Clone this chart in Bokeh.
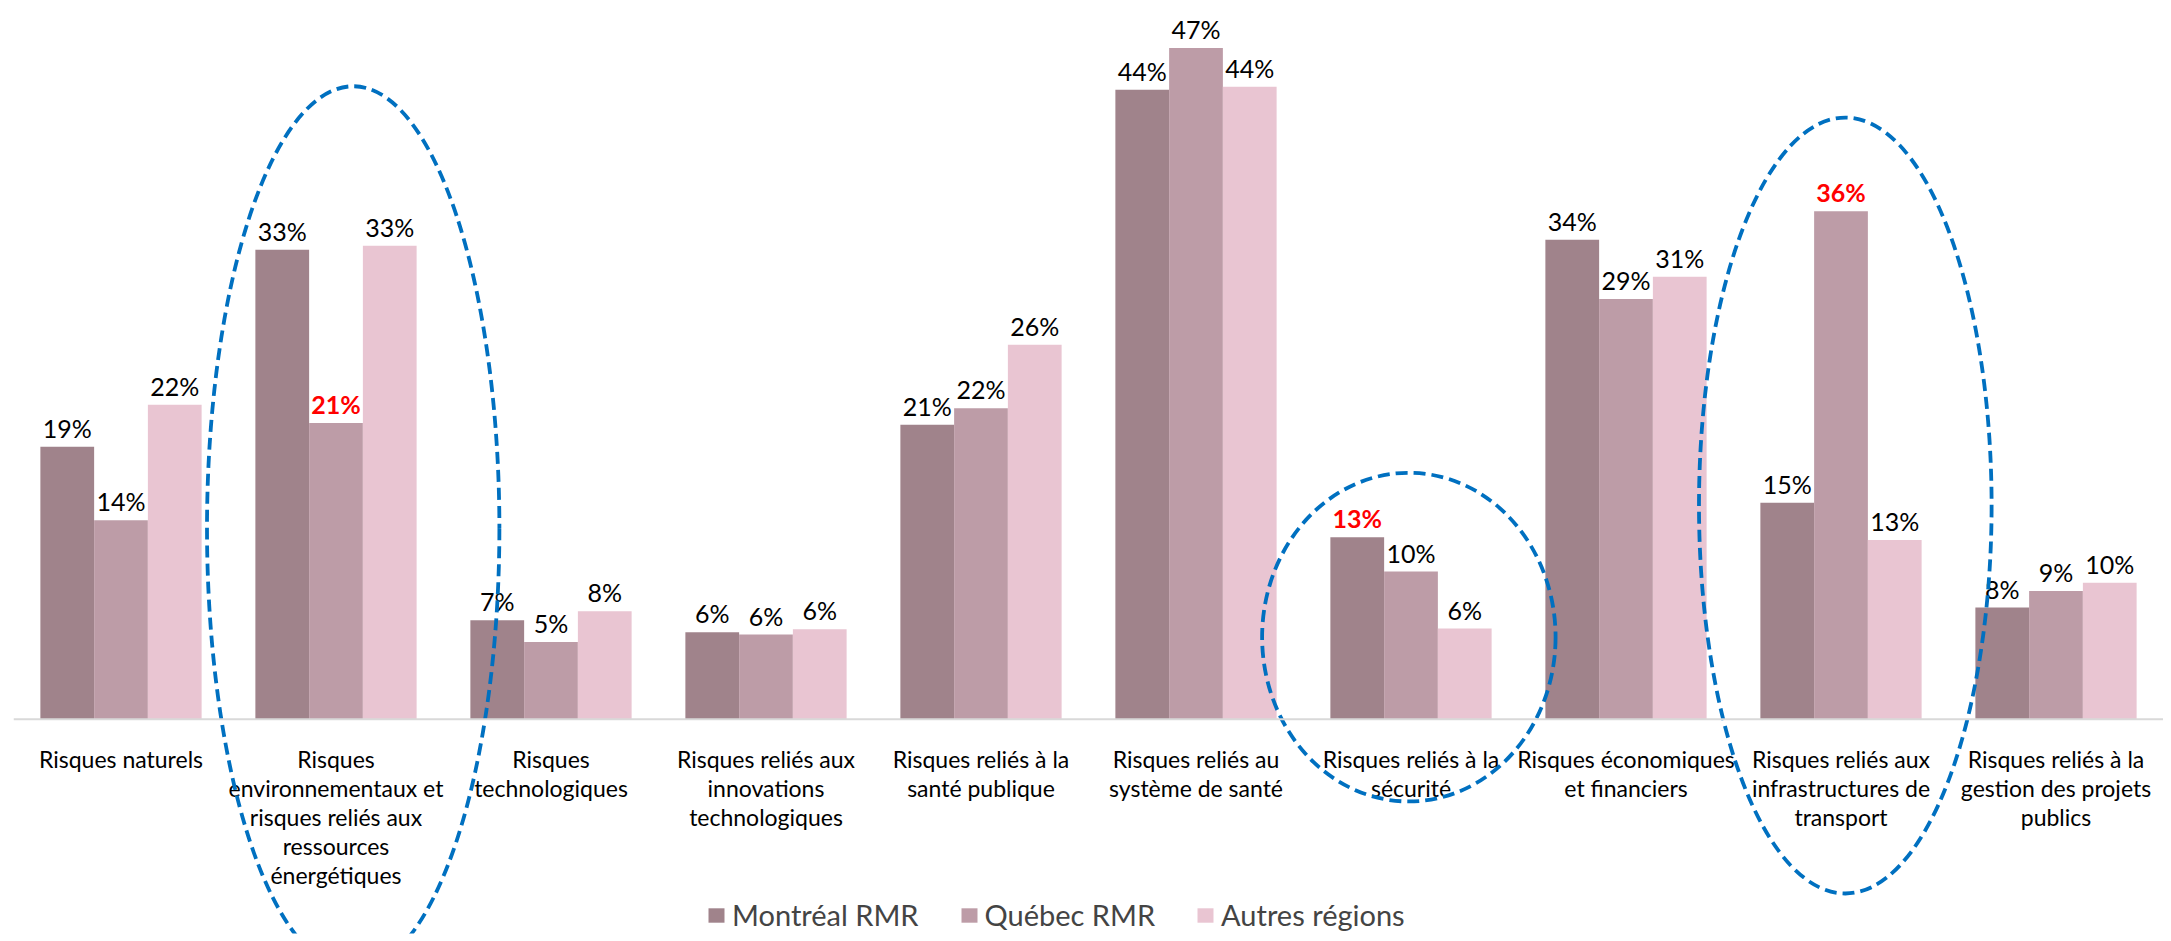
from bokeh.plotting import figure
from bokeh.models import ColumnDataSource, FactorRange, Range1d, Span
from bokeh.transform import dodge
from bokeh.core.properties import value
from bokeh.embed import file_html
from bokeh.resources import INLINE

# ---------------- data ----------------
categories = [
    "Risques naturels",
    "Risques environnementaux et risques reliés aux ressources énergétiques",
    "Risques technologiques",
    "Risques reliés aux innovations technologiques",
    "Risques reliés à la santé publique",
    "Risques reliés au système de santé",
    "Risques reliés à la sécurité",
    "Risques économiques et financiers",
    "Risques reliés aux infrastructures de transport",
    "Risques reliés à la gestion des projets publics",
]
category_labels = [
    "Risques naturels",
    "Risques\nenvironnementaux et\nrisques reliés aux\nressources\nénergétiques",
    "Risques\ntechnologiques",
    "Risques reliés aux\ninnovations\ntechnologiques",
    "Risques reliés à la\nsanté publique",
    "Risques reliés au\nsystème de santé",
    "Risques reliés à la\nsécurité",
    "Risques économiques\net financiers",
    "Risques reliés aux\ninfrastructures de\ntransport",
    "Risques reliés à la\ngestion des projets\npublics",
]
series_names = ["Montréal RMR", "Québec RMR", "Autres régions"]
montreal = [19.06, 32.84, 6.92, 6.08, 20.6, 44.05, 12.73, 33.55, 15.14, 7.81]
quebec = [13.92, 20.72, 5.4, 5.92, 21.75, 46.97, 10.33, 29.4, 35.55, 8.96]
autres = [22.0, 33.12, 7.55, 6.29, 26.2, 44.25, 6.34, 30.96, 12.53, 9.55]
series_values = [montreal, quebec, autres]
# highlighted (red, bold) labels: (category index, series index)
highlights = [(1, 1), (6, 0), (8, 1)]

# ---------------- style ----------------
bar_colors = ["#A0838B", "#BD9CA7", "#E9C5D2"]
offsets = [-0.25, 0.0, 0.25]
FONT = "Lato"

p = figure(
    width=2163, height=941,
    x_range=FactorRange(*categories, range_padding=0),
    y_range=Range1d(-15.0, 49.73),
    x_axis_location=None, y_axis_location=None,
    toolbar_location=None, output_backend="svg",
    min_border=0, min_border_left=13, min_border_top=8, min_border_bottom=8,
)
p.grid.visible = False
p.outline_line_color = None
p.background_fill_color = "white"
p.border_fill_color = "white"

for si, (name, vals) in enumerate(zip(series_names, series_values)):
    labels = [f"{int(v + 0.5)}%" for v in vals]
    colors = ["#FF0000" if (ci, si) in highlights else "#000000" for ci in range(len(categories))]
    styles = ["bold" if (ci, si) in highlights else "normal" for ci in range(len(categories))]
    src = ColumnDataSource(dict(cat=categories, val=vals, lab=labels, col=colors, sty=styles))
    p.vbar(x=dodge("cat", offsets[si], range=p.x_range), top="val", width=0.25, bottom=0,
           source=src, fill_color=bar_colors[si], line_color=None, legend_label=name)
    p.text(x=dodge("cat", offsets[si], range=p.x_range), y="val", text="lab", source=src,
           text_color="col", text_font_style="sty", text_font=value(FONT),
           text_font_size="25px", text_align="center", text_baseline="alphabetic",
           y_offset=-19)

# axis line
p.add_layout(Span(location=0, dimension="width", line_color="#D9D9D9", line_width=2))

# category labels
csrc = ColumnDataSource(dict(cat=categories, lab=category_labels))
p.text(x="cat", y=0, text="lab", source=csrc, text_font=value(FONT), text_font_size="23px",
       text_color="#000000", text_align="center", text_baseline="top", y_offset=26,
       text_line_height=1.03)

# dashed ellipses around circled categories
ell_x = [1.5 + 0.08, 6.5 - 0.01, 8.5 + 0.02]
ell_y = [13.35, 5.74, 14.95]
ell_w = [1.36, 1.365, 1.361]
ell_h = [61.9, 23.0, 54.3]
p.ellipse(x=ell_x, y=ell_y, width=ell_w, height=ell_h, fill_color=None,
          line_color="#0070C0", line_width=3.8, line_dash="12 6")

leg = p.legend[0]
leg.orientation = "horizontal"
leg.location = (693, 1)
leg.label_text_font = FONT
leg.label_text_font_size = "29px"
leg.glyph_width = 20
leg.glyph_height = 18
leg.label_standoff = 6
leg.spacing = 40
leg.padding = 0
leg.margin = 0
leg.border_line_color = None
leg.background_fill_alpha = 0

open("out.html", "w").write(file_html(p, INLINE))
